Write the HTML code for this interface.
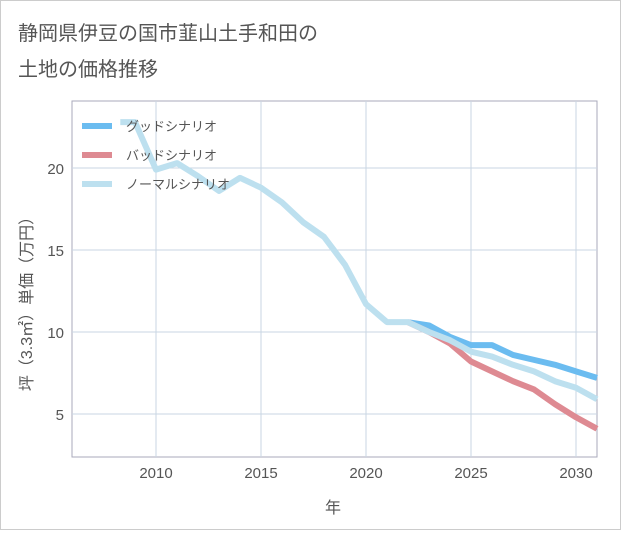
<!DOCTYPE html>
<html><head><meta charset="utf-8"><style>
body{margin:0;background:#fff;}
svg{font-family:"Liberation Sans","Noto Sans CJK JP",sans-serif;}
</style></head><body>
<svg width="621" height="530" viewBox="0 0 621 530">
<rect x="0.5" y="0.5" width="620" height="529" fill="#fff" stroke="#ccc"/>
<text x="18" y="40" font-size="20" fill="#555">静岡県伊豆の国市韮山土手和田の</text>
<text x="18" y="76" font-size="20" fill="#555">土地の価格推移</text>
<g id="grid"></g>
<g id="series"></g>
<g id="legend"></g>
<text x="333" y="513" font-size="16" fill="#555" text-anchor="middle">年</text>
<text transform="translate(32,300) rotate(-90)" font-size="16" fill="#555" text-anchor="middle">坪（3.3㎡）単価（万円）</text>
</svg>
<script>
const years=[2008.3,2009,2010,2011,2012,2013,2014,2015,2016,2017,2018,2019,2020,2021,2022,2023,2024,2025,2026,2027,2028,2029,2030,2031];
const normal=[22.8,22.8,19.9,20.3,19.5,18.6,19.4,18.8,17.9,16.7,15.8,14.1,11.7,10.6,10.6,10.0,9.5,8.8,8.5,8.0,7.6,7.0,6.6,5.9];
const fYears=[2022,2023,2024,2025,2026,2027,2028,2029,2030,2031];
const good=[10.6,10.4,9.7,9.2,9.2,8.6,8.3,8.0,7.6,7.2];
const bad=[10.6,10.0,9.3,8.2,7.6,7.0,6.5,5.6,4.8,4.1];
const xTicks=[2010,2015,2020,2025,2030];
const yTicks=[5,10,15,20];
const L=72,R=597,T=101,B=457;
const x=v=>L+(v-2006)*(R-L)/25;
const y=v=>414-(v-5)*16.4;
const NS="http://www.w3.org/2000/svg";
function mk(tag,attrs,parent){const e=document.createElementNS(NS,tag);for(const k in attrs)e.setAttribute(k,attrs[k]);parent.appendChild(e);return e;}
const g=document.getElementById('grid');
const bg=mk('rect',{x:L,y:T,width:R-L,height:B-T,fill:'none',stroke:'#aab',"stroke-width":1},g);


xTicks.forEach(t=>{
 const l=mk('line',{x1:x(t),x2:x(t),y1:T,y2:B,stroke:'#c9d6e3'},g);
 
 
 const tx=mk('text',{x:x(t),y:478,'font-size':15,fill:'#555','text-anchor':'middle'},g);
 tx.textContent=t;
 
 
});
yTicks.forEach(t=>{
 const l=mk('line',{x1:L,x2:R,y1:y(t),y2:y(t),stroke:'#c9d6e3'},g);
 
 
 const tx=mk('text',{x:64,y:y(t)+6,'font-size':15,fill:'#555','text-anchor':'end'},g);
 tx.textContent=t;
 
 
});
const s=document.getElementById('series');
function line(xs,vs,color,name){
 const p=mk('polyline',{points:xs.map((v,i)=>x(v)+','+y(vs[i])).join(' '),fill:'none',stroke:color,'stroke-width':6,'stroke-linejoin':'round'},s);
 
 
}
line(fYears,good,'#6bbcf0','good-scenario-line');
line(fYears,bad,'#de8a92','bad-scenario-line');
line(years,normal,'#bde0ef','normal-scenario-line');
const lg=document.getElementById('legend');
[['グッドシナリオ','#6bbcf0'],['バッドシナリオ','#de8a92'],['ノーマルシナリオ','#bde0ef']].forEach((d,i)=>{
 const yy=126+i*29;
 const r=mk('rect',{x:82,y:yy-3,width:30,height:6,fill:d[1]},lg);
 
 
 const t=mk('text',{x:126,y:yy+5,'font-size':13,fill:'#555'},lg);
 t.textContent=d[0];
 
 
});
</script>
</body></html>
